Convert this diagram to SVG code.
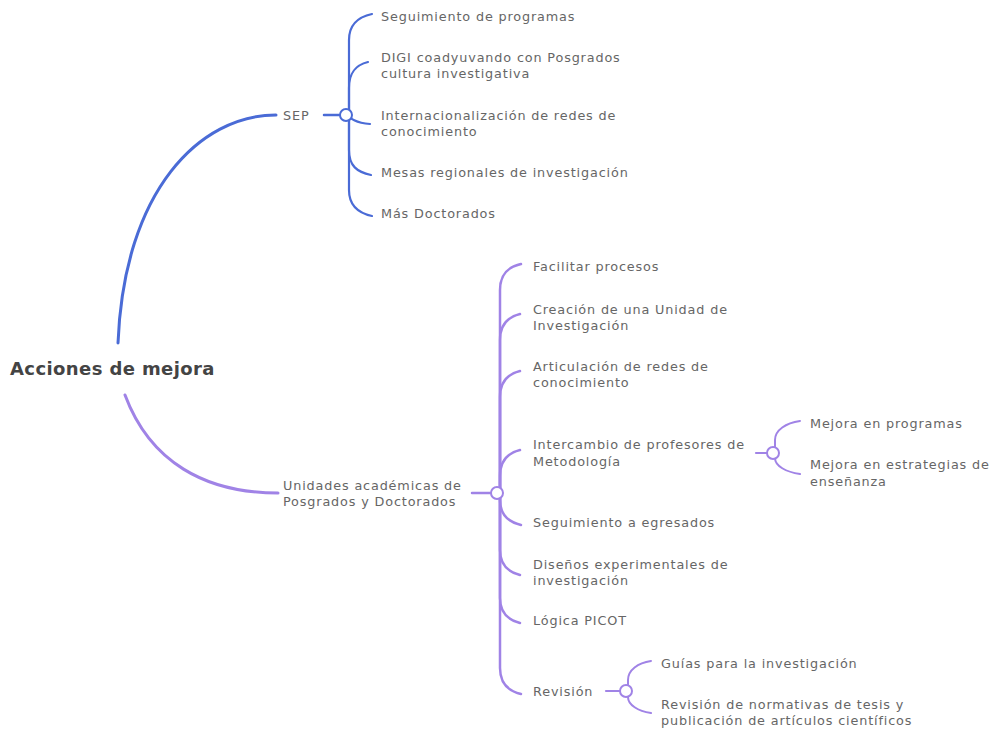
<svg xmlns="http://www.w3.org/2000/svg" width="990" height="731" viewBox="0 0 990 731">
<style>
text{font-family:"DejaVu Sans","Liberation Sans",sans-serif;font-size:12.8px;letter-spacing:0.85px;fill:#666}
.root{font-size:18px;font-weight:bold;letter-spacing:0.4px;fill:#444}
.b{stroke:#4a6bd6;fill:none;stroke-linecap:round}
.p{stroke:#a083e6;fill:none;stroke-linecap:round}
.cb{fill:#fff;stroke:#4a6bd6;stroke-width:2}
.cp{fill:#fff;stroke:#a083e6;stroke-width:2}
</style>
<rect width="990" height="731" fill="#fff"/>
<g id="connectors">
<path class="b" stroke-width="3" d="M118,343 C124,190 200,115 276,115"/>
<path class="p" stroke-width="3" d="M125,395 C150,462 205,493 278,493"/>
<path class="b" stroke-width="2.5" d="M324,115 H340"/>
<g class="b" stroke-width="2.2">
<path d="M349,115 V40 C349,24 358,17 372,14"/>
<path d="M349,115 V88 C349,72 356,65 368,62"/>
<path d="M349,115 C349,118 356,123 370,124"/>
<path d="M349,115 V150 C349,166 357,172 371,175"/>
<path d="M349,115 V190 C349,206 358,213 372,216"/>
</g>
<path class="p" stroke-width="2.5" d="M472,493 H491"/>
<g class="p" stroke-width="2.5">
<path d="M500,493 V290 C500,274 508,267 521,264"/>
<path d="M500,493 V340 C500,324 508,317 520,314"/>
<path d="M500,493 V397 C500,381 508,374 520,371"/>
<path d="M500,493 V476 C500,460 508,453 520,450"/>
<path d="M500,493 V500 C500,515 508,522 521,525"/>
<path d="M500,493 V550 C500,565 508,572 520,575"/>
<path d="M500,493 V598 C500,613 508,620 520,623"/>
<path d="M500,493 V668 C500,683 508,691 521,694"/>
</g>
<path class="p" stroke-width="2.2" d="M756,453 H767"/>
<g class="p" stroke-width="2">
<path d="M775,453 V440 C775,430 786,423 800,421"/>
<path d="M775,453 V458 C775,466 786,472 800,474"/>
</g>
<path class="p" stroke-width="2.2" d="M606,691 H620"/>
<g class="p" stroke-width="2">
<path d="M628,691 V680 C628,670 638,663 651,661"/>
<path d="M628,691 V697 C628,705 638,711 651,713"/>
</g>
</g>
<g id="root"><text class="root" x="10" y="375">Acciones de mejora</text></g>
<g id="sep"><text x="283" y="120">SEP</text><circle class="cb" cx="346" cy="115" r="6"/></g>
<g id="sep1"><text x="381" y="21">Seguimiento de programas</text></g>
<g id="sep2"><text x="381" y="62">DIGI coadyuvando con Posgrados</text><text x="381" y="78">cultura investigativa</text></g>
<g id="sep3"><text x="381" y="120">Internacionalización de redes de</text><text x="381" y="136">conocimiento</text></g>
<g id="sep4"><text x="381" y="177">Mesas regionales de investigación</text></g>
<g id="sep5"><text x="381" y="218">Más Doctorados</text></g>
<g id="ua"><text x="283" y="490">Unidades académicas de</text><text x="283" y="506">Posgrados y Doctorados</text><circle class="cp" cx="497" cy="493" r="6"/></g>
<g id="ua1"><text x="533" y="271">Facilitar procesos</text></g>
<g id="ua2"><text x="533" y="314">Creación de una Unidad de</text><text x="533" y="330">Investigación</text></g>
<g id="ua3"><text x="533" y="371">Articulación de redes de</text><text x="533" y="387">conocimiento</text></g>
<g id="ua4"><text x="533" y="449">Intercambio de profesores de</text><text x="533" y="466">Metodología</text><circle class="cp" cx="773" cy="453" r="6"/></g>
<g id="ua4a"><text x="810" y="428">Mejora en programas</text></g>
<g id="ua4b"><text x="810" y="469">Mejora en estrategias de</text><text x="810" y="486">enseñanza</text></g>
<g id="ua5"><text x="533" y="527">Seguimiento a egresados</text></g>
<g id="ua6"><text x="533" y="569">Diseños experimentales de</text><text x="533" y="585">investigación</text></g>
<g id="ua7"><text x="533" y="625">Lógica PICOT</text></g>
<g id="ua8"><text x="533" y="696">Revisión</text><circle class="cp" cx="626" cy="691" r="6"/></g>
<g id="ua8a"><text x="661" y="668">Guías para la investigación</text></g>
<g id="ua8b"><text x="661" y="709">Revisión de normativas de tesis y</text><text x="661" y="725">publicación de artículos científicos</text></g>
</svg>
